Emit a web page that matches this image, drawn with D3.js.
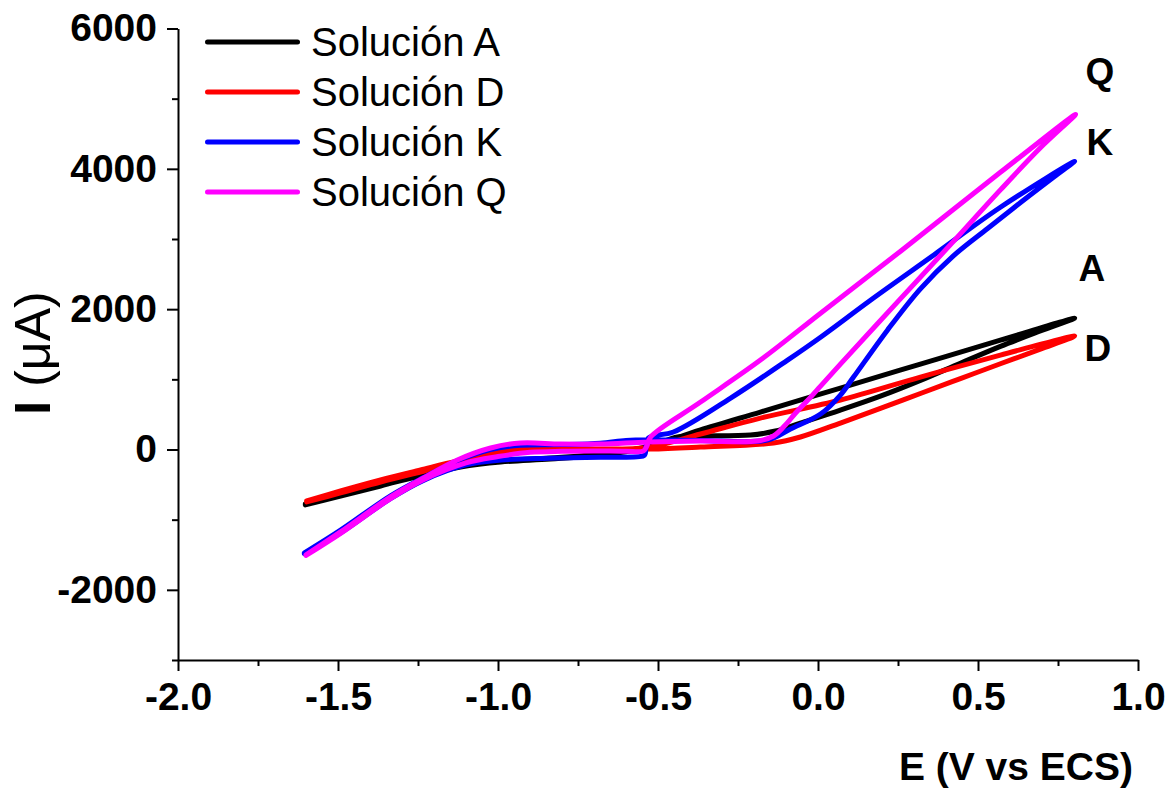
<!DOCTYPE html>
<html>
<head>
<meta charset="utf-8">
<script src="https://cdn.jsdelivr.net/npm/d3@7"></script>
<style>
  html, body { margin: 0; padding: 0; background: #fff; }
  svg { display: block; font-family: "Liberation Sans", Arial, sans-serif; }
</style>
</head>
<body>
<svg id="chart" width="1174" height="788"></svg>
<script>
// ---------- data ----------
const seriesNames = ["Solución A", "Solución D", "Solución K", "Solución Q"];
const seriesLetters = ["A", "D", "K", "Q"];
const xMajorTicks = [-2.0, -1.5, -1.0, -0.5, 0.0, 0.5, 1.0];
const xMinorTicks = [-1.75, -1.25, -0.75, -0.25, 0.25, 0.75];
const yMajorTicks = [-2000, 0, 2000, 4000, 6000];
const yMinorTicks = [-3000, -1000, 1000, 3000, 5000];

// [E (V vs ECS), I (µA)] along each cyclic scan
const solucionA = [
  [-1.602,-776],[-1.492,-634],[-1.367,-491],[-1.233,-335],[-1.117,-221],[-0.992,-164],[-0.836,-121],
  [-0.680,-64],[-0.523,50],[-0.439,178],[-0.367,192],[-0.211,206],[-0.133,263],[-0.055,377],[0.070,562],
  [0.195,760],[0.320,985],[0.445,1230],[0.570,1470],[0.695,1690],[0.802,1872],
  [0.570,1559],[0.320,1217],[0.070,875],[-0.180,534],[-0.367,278],[-0.439,170],[-0.523,36],[-0.680,-78],
  [-0.836,-135],[-0.992,-178],[-1.117,-249],[-1.233,-363],[-1.367,-520],[-1.492,-662],[-1.602,-790]
];
const solucionD = [
  [-1.598,-733],[-1.492,-591],[-1.367,-434],[-1.242,-292],[-1.127,-164],[-1.023,-64],[-0.952,-7],
  [-0.805,7],[-0.680,7],[-0.523,7],[-0.367,36],[-0.139,93],[-0.055,178],[0.070,377],[0.195,585],
  [0.320,798],[0.445,1010],[0.570,1222],[0.695,1430],[0.802,1616],
  [0.570,1345],[0.320,1032],[0.070,705],[-0.180,448],[-0.367,221],[-0.523,36],[-0.680,-7],[-0.805,-7],
  [-0.952,-36],[-1.023,-93],[-1.127,-192],[-1.242,-320],[-1.367,-463],[-1.492,-619],[-1.598,-747]
];
const solucionK = [
  [-1.605,-1474],[-1.492,-1150],[-1.336,-660],[-1.233,-400],[-1.127,-160],[-1.023,0],[-0.930,60],
  [-0.800,70],[-0.680,90],[-0.600,130],[-0.530,140],[-0.367,130],[-0.158,135],[-0.086,292],[0.008,505],
  [0.070,776],[0.111,1032],[0.217,1701],[0.320,2290],[0.423,2760],[0.530,3150],[0.633,3520],
  [0.736,3880],[0.802,4107],
  [0.570,3452],[0.361,2769],[0.164,2128],[0.008,1601],[-0.095,1274],[-0.273,733],[-0.452,249],
  [-0.530,164],[-0.540,-60],[-0.545,-90],[-0.680,-110],[-0.840,-125],[-0.990,-150],[-1.100,-220],
  [-1.233,-440],[-1.336,-700],[-1.492,-1190],[-1.605,-1485]
];
const solucionQ = [
  [-1.600,-1502],[-1.492,-1174],[-1.336,-676],[-1.233,-406],[-1.127,-150],[-1.023,21],[-0.930,93],
  [-0.805,78],[-0.680,78],[-0.530,107],[-0.367,121],[-0.189,121],[-0.139,192],[-0.102,349],[-0.070,520],
  [-0.023,747],[0.008,904],[0.070,1217],[0.248,2100],[0.414,2920],[0.570,3700],[0.695,4300],[0.805,4776],
  [0.570,3950],[0.258,2826],[0.008,1943],[-0.180,1274],[-0.367,676],[-0.523,178],[-0.535,50],
  [-0.545,-20],[-0.600,-25],[-0.700,-21],[-0.800,-25],[-0.900,-40],[-1.000,-100],[-1.100,-190],
  [-1.233,-430],[-1.336,-700],[-1.492,-1195],[-1.600,-1510]
];
// letter annotations placed in data units [E, I]
const letterPositions = [[0.814, 2399], [0.833, 1260], [0.839, 4192], [0.836, 5203]];

const seriesData = [solucionA, solucionD, solucionK, solucionQ];
const seriesColors = ["#000000", "#ff0000", "#0000ff", "#ff00ff"];

// ---------- chart ----------
const svg = d3.select("#chart");
const x = d3.scaleLinear().domain([-2, 1]).range([178, 1138]);
const y = d3.scaleLinear().domain([-3000, 6000]).range([660, 28.5]);

const tickFont = 39;

// X axis
svg.append("g").attr("transform", "translate(0,660)")
  .call(d3.axisBottom(x).tickValues(xMajorTicks).tickSize(11).tickSizeOuter(0).tickPadding(11)
    .tickFormat(d => d.toFixed(1)));
svg.append("g").attr("transform", "translate(0,660)")
  .call(d3.axisBottom(x).tickValues(xMinorTicks).tickSize(6).tickSizeOuter(0).tickFormat(""))
  .select(".domain").remove();

// Y axis
svg.append("g").attr("transform", "translate(178,0)")
  .call(d3.axisLeft(y).tickValues(yMajorTicks).tickSize(11).tickSizeOuter(0).tickPadding(10)
    .tickFormat(d => String(d)));
svg.append("g").attr("transform", "translate(178,0)")
  .call(d3.axisLeft(y).tickValues(yMinorTicks).tickSize(6).tickSizeOuter(0).tickFormat(""))
  .select(".domain").remove();

svg.selectAll(".domain").attr("stroke", "#000").attr("stroke-width", 2);
svg.selectAll(".tick line").attr("stroke", "#000").attr("stroke-width", 2);
svg.selectAll(".tick text")
  .attr("font-family", "'Liberation Sans', Arial, sans-serif")
  .attr("font-size", tickFont).attr("font-weight", "bold").attr("fill", "#000");

// Axis titles
svg.append("text")
  .attr("x", 1133).attr("y", 780).attr("text-anchor", "end")
  .attr("font-size", 39).attr("font-weight", "bold").text("E (V vs ECS)");

const yt = svg.append("text")
  .attr("transform", "translate(50,353) rotate(-90)")
  .attr("text-anchor", "middle").attr("font-size", 50);
yt.append("tspan").attr("font-weight", "bold").text("I");
yt.append("tspan").text(" (μA)");

// Curves
const line = d3.line()
  .x(d => x(d[0])).y(d => y(d[1]))
  .curve(d3.curveCatmullRom.alpha(0.5));

svg.append("g").selectAll("path")
  .data(seriesData)
  .join("path")
  .attr("d", line)
  .attr("fill", "none")
  .attr("stroke", (d, i) => seriesColors[i])
  .attr("stroke-width", 5)
  .attr("stroke-linecap", "round")
  .attr("stroke-linejoin", "round");

// Letter labels
svg.append("g").selectAll("text")
  .data(letterPositions)
  .join("text")
  .attr("x", d => x(d[0])).attr("y", d => y(d[1]))
  .attr("font-size", 37).attr("font-weight", "bold")
  .text((d, i) => seriesLetters[i]);

// Legend
const legend = svg.append("g");
seriesNames.forEach((name, i) => {
  const cy = 42 + i * 50;
  legend.append("line")
    .attr("x1", 207.5).attr("x2", 297.5).attr("y1", cy).attr("y2", cy)
    .attr("stroke", seriesColors[i]).attr("stroke-width", 5).attr("stroke-linecap", "round");
  legend.append("text")
    .attr("x", 311).attr("y", cy + 14)
    .attr("font-size", 40).text(name);
});
</script>
</body>
</html>
